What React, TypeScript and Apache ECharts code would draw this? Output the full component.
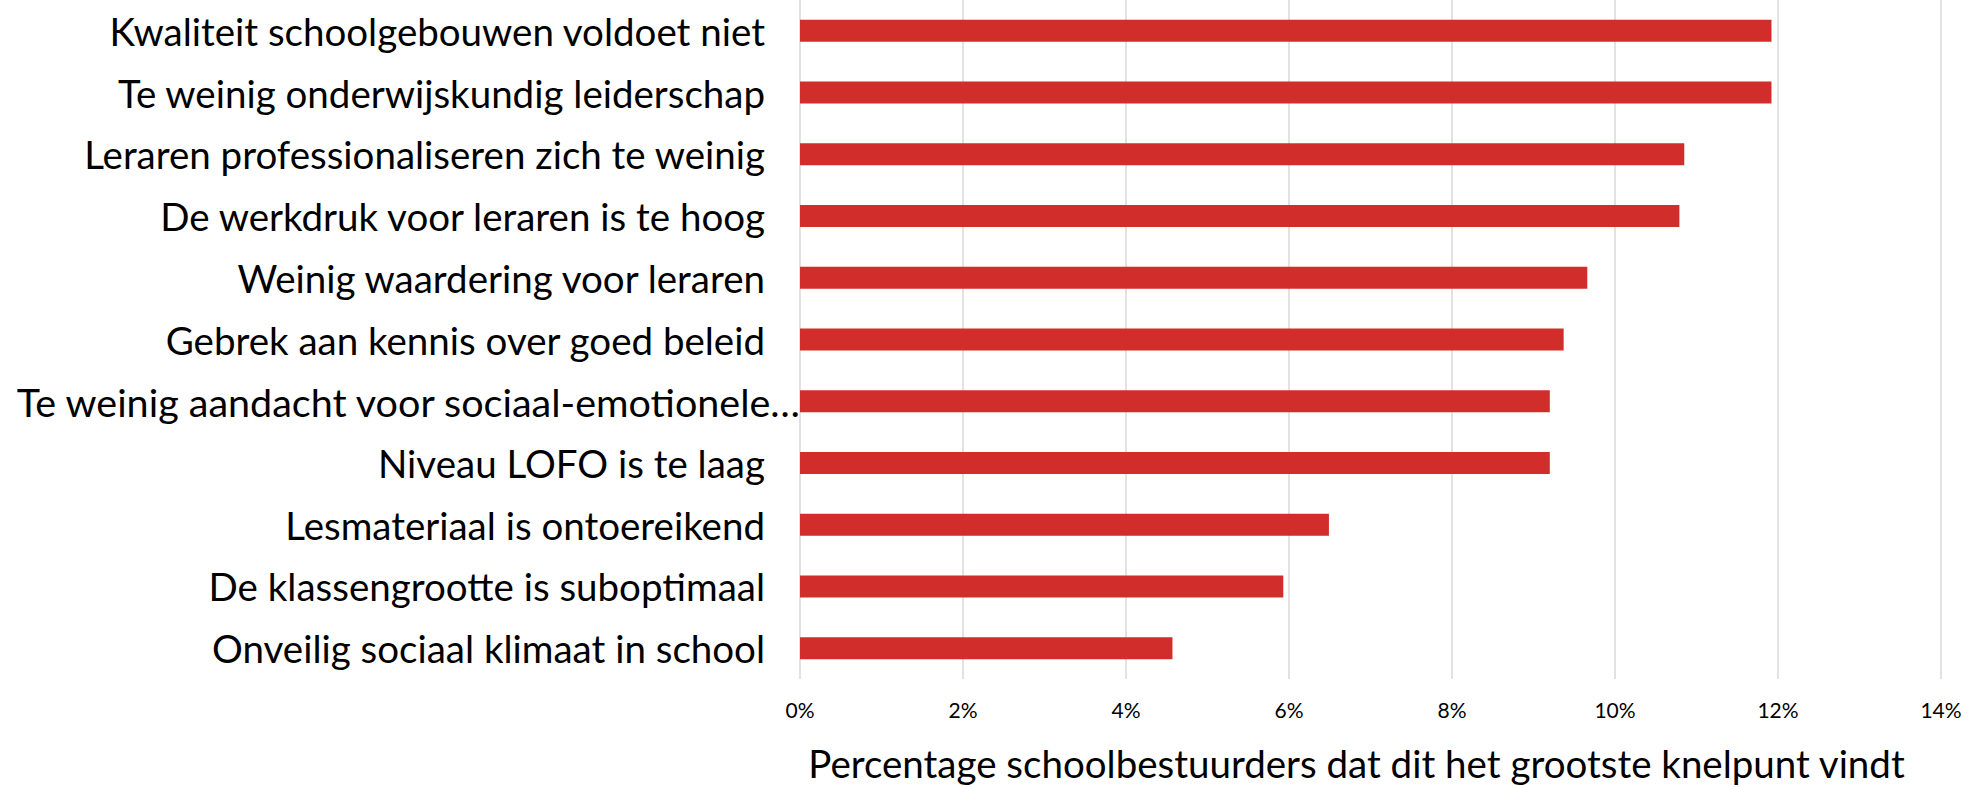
import React, { useEffect, useRef } from "react";
import * as echarts from "echarts";

const categories = [
  "Kwaliteit schoolgebouwen voldoet niet",
  "Te weinig onderwijskundig leiderschap",
  "Leraren professionaliseren zich te weinig",
  "De werkdruk voor leraren is te hoog",
  "Weinig waardering voor leraren",
  "Gebrek aan kennis over goed beleid",
  "Te weinig aandacht voor sociaal-emotionele…",
  "Niveau LOFO is te laag",
  "Lesmateriaal is ontoereikend",
  "De klassengrootte is suboptimaal",
  "Onveilig sociaal klimaat in school",
];

const values = [11.92, 11.92, 10.85, 10.79, 9.66, 9.37, 9.2, 9.2, 6.49, 5.93, 4.57];

const xTicks = { min: 0, max: 14, interval: 2 };

const axisTitle = "Percentage schoolbestuurders dat dit het grootste knelpunt vindt";

export default function App() {
  const ref = useRef<HTMLDivElement>(null);
  useEffect(() => {
    if (!ref.current) return;
    const chart = echarts.init(ref.current, null, { renderer: "svg" });
    const font = "Lato, 'Noto Sans', sans-serif";
    chart.setOption({
      animation: false,
      backgroundColor: "#ffffff",
      grid: { left: 800, right: 44, top: -2, bottom: 106, containLabel: false },
      xAxis: {
        type: "value",
        min: xTicks.min,
        max: xTicks.max,
        interval: xTicks.interval,
        axisLine: { show: false },
        axisTick: { show: false },
        splitLine: { show: true, lineStyle: { color: "#d9d9d9", width: 1.5 } },
        axisLabel: {
          formatter: "{value}%",
          color: "#000",
          fontFamily: font,
          fontSize: 21,
          margin: 20,
        },
        name: axisTitle,
        nameLocation: "middle",
        nameGap: 64,
        nameTextStyle: {
          color: "#000",
          fontFamily: font,
          fontSize: 38.5,
          padding: [0, 28, 0, 0],
        },
      },
      yAxis: {
        type: "category",
        inverse: true,
        data: categories.map((c, i) =>
          i === 6 ? { value: c, textStyle: { padding: [0, -35, 0, 0], fontSize: 39.5 } } : c
        ),
        axisLine: { show: false },
        axisTick: { show: false },
        splitLine: { show: false },
        axisLabel: {
          color: "#000",
          fontFamily: font,
          fontSize: 38.5,
          margin: 35,
        },
      },
      series: [
        {
          type: "bar",
          data: values,
          barWidth: 22,
          itemStyle: { color: "#d12d2b" },
        },
      ],
    });
    return () => chart.dispose();
  }, []);
  return (
    <div
      ref={ref}
      style={{ position: "absolute", left: 0, top: 0, width: 1985, height: 787 }}
    />
  );
}
